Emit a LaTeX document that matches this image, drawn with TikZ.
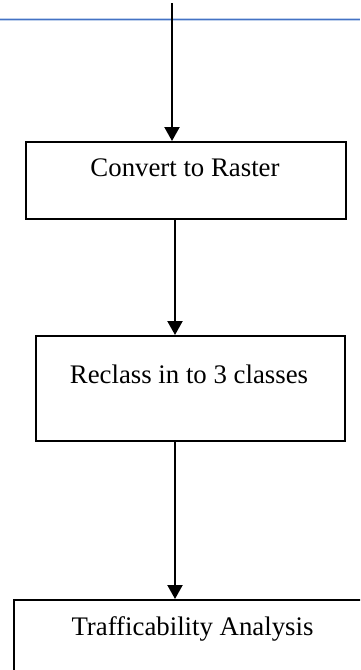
\documentclass[tikz,border=0pt]{standalone}
\usepackage{fontspec}
\setmainfont{Liberation Serif}
\usetikzlibrary{arrows.meta}
\begin{document}
\begin{tikzpicture}[x=1pt,y=-1pt,
  box/.style={draw=black,line width=2.2pt,rectangle,inner sep=0pt,anchor=north west},
  lbl/.style={font=\fontsize{26.8}{30}\selectfont,anchor=base,inner sep=0pt},
  arr/.style={line width=2.2pt,-{Triangle[width=15pt,length=14pt]}},
  rule/.style={line width=#1}]
\useasboundingbox (0,0) rectangle (360,670);
\clip (0,0) rectangle (360,670);
% header rule
\coordinate (hl) at (0,19.5);
\coordinate (hr) at (360,19.5);
\draw[rule=3pt,color={rgb,255:red,190;green,208;blue,236}] (hl) -- (hr);
\draw[rule=1.2pt,color={rgb,255:red,68;green,114;blue,196}] (hl) -- (hr);
% boxes
\node[box,minimum width=320pt,minimum height=77pt] (b1) at (25,141) {};
\node[box,minimum width=309pt,minimum height=105pt] (b2) at (35,335) {};
\node[box,minimum width=400pt,minimum height=130pt] (b3) at (13,599) {};
% labels
\node[lbl] (t1) at (185,176) {Convert to Raster};
\node[lbl] (t2) at (189,383) {Reclass in to 3 classes};
\node[lbl] (t3) at (192.5,635) {Trafficability Analysis};
% connectors
\coordinate (s0) at (172,3);
\coordinate (x2) at (175,0);
\coordinate (x3) at (175,0);
\draw[arr] (s0) -- (s0 |- b1.north);
\draw[arr] (b1.south -| x2) -- (b2.north -| x2);
\draw[arr] (b2.south -| x3) -- (b3.north -| x3);
\end{tikzpicture}
\end{document}
